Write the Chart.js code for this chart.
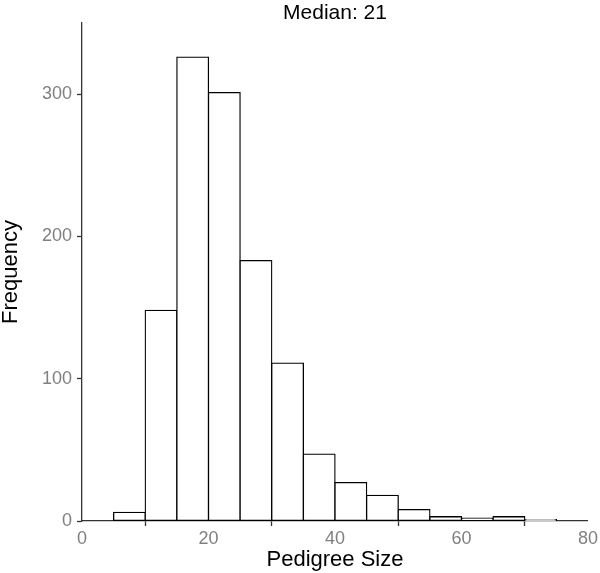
<!DOCTYPE html>
<html>
<head>
<meta charset="utf-8">
<script src="https://cdn.jsdelivr.net/npm/chart.js@4.4.1/dist/chart.umd.min.js"></script>
<style>
  html, body { margin: 0; padding: 0; background: #fff; }
  #wrap { width: 600px; height: 573px; position: relative; }
</style>
</head>
<body>
<div id="wrap"><canvas id="chart"></canvas></div>
<script>
// histogram of pedigree sizes, bins of width 5
const binStarts = [5, 10, 15, 20, 25, 30, 35, 40, 45, 50, 55, 60, 65, 70]
const binWidth = 5
const counts = [6, 148, 326, 301, 183, 111, 47, 27, 18, 8, 3, 2, 3, 1]

const xTicks = [0, 20, 40, 60, 80]
const yTicks = [0, 100, 200, 300]

const titleText = 'Median: 21'
const xLabel = 'Pedigree Size'
const yLabel = 'Frequency'

const FONT = "'Liberation Sans', Arial, Helvetica, sans-serif"
const AXIS = '#333333'
const TICK_TEXT = '#808080'

Chart.defaults.font.family = FONT

const points = binStarts.map((s, i) => ({x: s + binWidth / 2, y: counts[i]}))

// ggplot centres the title over the panel, not the whole canvas
const panelTitle = {
  id: 'panelTitle',
  afterDraw(chart) {
    const {ctx, chartArea} = chart
    ctx.save()
    ctx.font = '21px ' + FONT
    ctx.fillStyle = '#000'
    ctx.textAlign = 'center'
    ctx.textBaseline = 'alphabetic'
    ctx.fillText(titleText, (chartArea.left + chartArea.right) / 2, 18.5)
    ctx.restore()
  }
}

new Chart(document.getElementById('chart'), {
  type: 'bar',
  data: {
    datasets: [{
      data: points,
      backgroundColor: '#ffffff',
      borderColor: '#000000',
      borderWidth: 1.3,
      borderSkipped: false,
      inflateAmount: 0.65,
      barPercentage: 1,
      categoryPercentage: 1
    }]
  },
  plugins: [panelTitle],
  options: {
    responsive: true,
    maintainAspectRatio: false,
    animation: false,
    layout: {padding: {left: 0, right: 11, top: 23, bottom: 0}},
    plugins: {
      legend: {display: false},
      tooltip: {enabled: false},
      title: {display: false}
    },
    scales: {
      x: {
        type: 'linear',
        min: 0,
        max: 80,
        offset: false,
        afterBuildTicks: (scale) => { scale.ticks = xTicks.map(v => ({value: v})) },
        afterFit: (scale) => { scale.height = 52 },
        grid: {display: true, drawOnChartArea: false, tickLength: 5, tickColor: AXIS, tickWidth: 1.3},
        border: {display: true, color: AXIS, width: 1.3},
        ticks: {color: TICK_TEXT, font: {size: 18}, padding: 2, maxRotation: 0},
        title: {
          display: true,
          text: xLabel,
          color: '#000',
          font: {size: 22, lineHeight: 1.15},
          padding: {top: 0, bottom: 0}
        }
      },
      y: {
        min: 0,
        max: 350,
        afterBuildTicks: (scale) => { scale.ticks = yTicks.map(v => ({value: v})) },
        afterFit: (scale) => { scale.width = 82 },
        grid: {display: true, drawOnChartArea: false, tickLength: 5, tickColor: AXIS, tickWidth: 1.3},
        border: {display: true, color: AXIS, width: 1.3},
        ticks: {color: TICK_TEXT, font: {size: 18}, padding: 5},
        title: {
          display: true,
          text: yLabel,
          color: '#000',
          font: {size: 22, lineHeight: 1.0},
          padding: {top: 0, bottom: 0}
        }
      }
    }
  }
})
</script>
</body>
</html>
